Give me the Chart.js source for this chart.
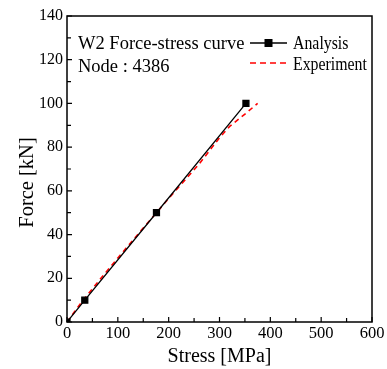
<!DOCTYPE html>
<html><head><meta charset="utf-8">
<script src="https://cdn.jsdelivr.net/npm/chart.js@4"></script>
<style>html,body{margin:0;padding:0;background:#fff}#wrap{width:387px;height:369px}</style>
</head><body><div id="wrap"><canvas id="c"></canvas></div>
<script>
const analysisStress = [0, 35, 176, 352];
const analysisForce = [0, 10, 50, 100];
const experimentStress = [0, 30, 65, 100, 150, 176, 200, 240, 260, 300, 320, 352, 375];
const experimentForce = [0, 9.5, 19.5, 29.3, 43, 50, 56.5, 67, 72.3, 84.3, 89.5, 95.5, 100];
const xTicks = [0, 100, 200, 300, 400, 500, 600];
const yTicks = [0, 20, 40, 60, 80, 100, 120, 140];
const titleLines = ["W2 Force-stress curve", "Node : 4386"];
const legendLabels = ["Analysis", "Experiment"];
const xTitle = "Stress [MPa]";
const yTitle = "Force [kN]";

const FONT = "'Liberation Serif', 'Times New Roman', serif";
const toPts = (xs, ys) => xs.map((x, i) => ({x, y: ys[i]}));

const framePlugin = {
  id: 'frame',
  afterDraw(chart) {
    const {ctx, chartArea: a, scales: {x, y}} = chart;
    ctx.save();
    ctx.strokeStyle = '#000';
    ctx.lineWidth = 1.5;
    ctx.strokeRect(a.left, a.top, a.right - a.left, a.bottom - a.top);
    ctx.lineWidth = 1.2;
    ctx.beginPath();
    for (let v = 0; v <= 600; v += 50) {
      const px = x.getPixelForValue(v);
      const len = (v % 100 === 0) ? 5 : 4;
      ctx.moveTo(px, a.bottom); ctx.lineTo(px, a.bottom - len);
    }
    for (let v = 0; v <= 140; v += 10) {
      const py = y.getPixelForValue(v);
      const len = (v % 20 === 0) ? 5 : 4;
      ctx.moveTo(a.left, py); ctx.lineTo(a.left + len, py);
    }
    ctx.stroke();
    // y axis title
    ctx.fillStyle = '#000';
    ctx.save();
    ctx.translate(33, 182.5);
    ctx.rotate(-Math.PI / 2);
    ctx.font = '20.5px ' + FONT;
    ctx.textAlign = 'center';
    ctx.textBaseline = 'alphabetic';
    ctx.fillText(yTitle, 0, 0);
    ctx.restore();
    // title text
    ctx.font = '18.5px ' + FONT;
    ctx.textBaseline = 'alphabetic';
    ctx.textAlign = 'left';
    ctx.fillText(titleLines[0], 78, 49);
    ctx.fillText(titleLines[1], 78, 72);
    // legend
    const lx0 = 250, lx1 = 287, tx = 293;
    const y1 = 43, y2 = 63;
    ctx.strokeStyle = '#000'; ctx.lineWidth = 1.3; ctx.setLineDash([]);
    ctx.beginPath(); ctx.moveTo(lx0, y1); ctx.lineTo(lx1, y1); ctx.stroke();
    ctx.fillRect((lx0 + lx1) / 2 - 4, y1 - 4, 8, 8);
    ctx.strokeStyle = '#ff0000'; ctx.lineWidth = 1.6; ctx.setLineDash([6, 4]);
    ctx.beginPath(); ctx.moveTo(lx0, y2); ctx.lineTo(lx1, y2); ctx.stroke();
    ctx.setLineDash([]);
    ctx.fillStyle = '#000';
    ctx.font = '18px ' + FONT;
    [[legendLabels[0], 49], [legendLabels[1], 70]].forEach(([t, by]) => {
      ctx.save();
      ctx.translate(tx, by);
      ctx.scale(0.88, 1);
      ctx.fillText(t, 0, 0);
      ctx.restore();
    });
    ctx.restore();
  }
};

new Chart(document.getElementById('c'), {
  type: 'scatter',
  data: {
    datasets: [
      {
        label: legendLabels[1],
        data: toPts(experimentStress, experimentForce),
        showLine: true, borderColor: '#ff0000', borderWidth: 1.6,
        borderDash: [5, 4], pointRadius: 0, fill: false, order: 2
      },
      {
        label: legendLabels[0],
        data: toPts(analysisStress, analysisForce),
        showLine: true, borderColor: '#000', borderWidth: 1.3,
        pointStyle: 'rect', pointRadius: 4.2, pointBackgroundColor: '#000',
        pointBorderColor: '#000', fill: false, order: 1
      }
    ]
  },
  options: {
    responsive: true, maintainAspectRatio: false, animation: false,
    layout: {padding: {top: 16, right: 15, left: 0, bottom: 0}},
    plugins: {legend: {display: false}, tooltip: {enabled: false}},
    scales: {
      x: {
        type: 'linear', min: 0, max: 600,
        afterBuildTicks: s => { s.ticks = xTicks.map(v => ({value: v})); },
        afterFit: s => { s.height = 47; },
        grid: {display: false, drawTicks: false},
        border: {display: false},
        ticks: {color: '#000', font: {family: FONT, size: 16.5}, padding: 2, maxRotation: 0},
        title: {display: true, text: xTitle, color: '#000', font: {family: FONT, size: 20}, padding: {top: -4, bottom: 0}}
      },
      y: {
        type: 'linear', min: 0, max: 140,
        afterBuildTicks: s => { s.ticks = yTicks.map(v => ({value: v})); },
        afterFit: s => { s.width = 67; },
        grid: {display: false, drawTicks: false},
        border: {display: false},
        ticks: {color: '#000', font: {family: FONT, size: 16}, padding: 4},
        title: {display: false}
      }
    }
  },
  plugins: [framePlugin]
});
</script></body></html>
